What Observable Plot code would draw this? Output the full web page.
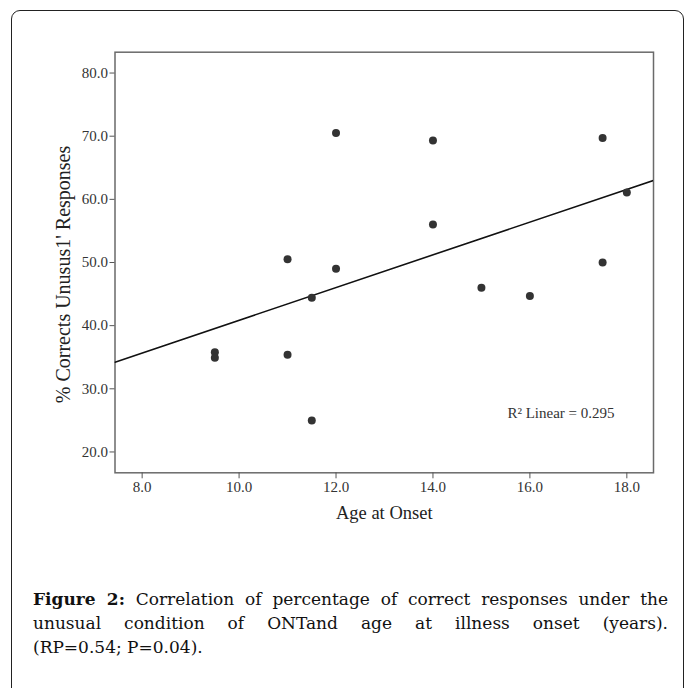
<!DOCTYPE html>
<html>
<head>
<meta charset="utf-8">
<script src="https://cdn.jsdelivr.net/npm/d3@7"></script>
<script src="https://cdn.jsdelivr.net/npm/@observablehq/plot@0.6"></script>
<style>
  html, body { margin: 0; padding: 0; background: #fff; }
  #wrap { position: relative; width: 684px; height: 688px; overflow: hidden; }
  #border { position: absolute; left: 11px; top: 9.5px; width: 672.5px; height: 720px;
            border: 1.6px solid #222; border-radius: 9px; box-sizing: border-box; }
  #chart { position: absolute; left: 0; top: 0; }
  #caption { position: absolute; left: 33px; top: 587px; width: 635px;
             font-family: "DejaVu Serif", serif; font-size: 17px; line-height: 24.2px; color: #111; }
  #caption .j { text-align: justify; text-align-last: justify; white-space: nowrap; }
  #caption b { font-weight: bold; }
</style>
</head>
<body>
<div id="wrap">
  <div id="border"></div>
  <div id="chart"></div>
  <div id="caption">
    <div class="j"><b>Figure 2:</b> Correlation of percentage of correct responses under the</div>
    <div class="j">unusual condition of ONTand age at illness onset (years).</div>
    <div>(RP=0.54; P=0.04).</div>
  </div>
</div>
<script>
// Data
const ageAtOnset = [9.5, 9.5, 11.0, 11.0, 11.5, 11.5, 12.0, 12.0, 14.0, 14.0, 15.0, 16.0, 17.5, 17.5, 18.0];
const pctCorrect = [35.8, 34.9, 35.4, 50.5, 44.4, 25.0, 70.5, 49.0, 69.3, 56.0, 46.0, 44.7, 69.7, 50.0, 61.1];
const xTicks = [8, 10, 12, 14, 16, 18];
const yTicks = [20, 30, 40, 50, 60, 70, 80];
const xDomain = [7.44, 18.55];
const yDomain = [16.7, 83.3];
const xTitle = "Age at Onset";
const yTitle = "% Corrects Unusus1' Responses";
const r2Label = "R² Linear = 0.295";

const points = ageAtOnset.map((a, i) => ({age: a, pct: pctCorrect[i]}));

// ordinary least squares fit, drawn across the full x domain
const mx = d3.mean(ageAtOnset), my = d3.mean(pctCorrect);
const sxy = d3.sum(points, d => (d.age - mx) * (d.pct - my));
const sxx = d3.sum(points, d => (d.age - mx) ** 2);
const slope = sxy / sxx, intercept = my - slope * mx;
const fitLine = xDomain.map(x => ({age: x, pct: intercept + slope * x}));

const serif = "'Liberation Serif', 'Times New Roman', serif";

const chart = Plot.plot({
  width: 684,
  height: 540,
  marginLeft: 114.5,
  marginRight: 31,
  marginTop: 51.7,
  marginBottom: 67.7,
  style: {fontFamily: serif, background: "transparent", color: "#333"},
  x: {domain: xDomain, label: null},
  y: {domain: yDomain, label: null},
  marks: [
    Plot.frame({stroke: "#6a6a6a", strokeWidth: 1.5}),
    Plot.axisX({ticks: xTicks, tickFormat: d3.format(".1f"), tickSize: 6, tickPadding: 3,
                fontSize: 15, stroke: "#555", label: null}),
    Plot.axisY({ticks: yTicks, tickFormat: d3.format(".1f"), tickSize: 5, tickPadding: 2,
                fontSize: 15, stroke: "#555", label: null}),
    Plot.line(fitLine, {x: "age", y: "pct", stroke: "#111", strokeWidth: 1.6, clip: true}),
    Plot.dot(points, {x: "age", y: "pct", r: 4, fill: "#333", stroke: "none"}),
    Plot.text([r2Label], {frameAnchor: "bottom-right", textAnchor: "end", dx: -39, dy: -55,
                          fontSize: 15, fill: "#333"}),
    Plot.text([xTitle], {frameAnchor: "bottom", dy: 46, fontSize: 18.5, fill: "#222"}),
    Plot.text([yTitle], {frameAnchor: "left", textAnchor: "middle", rotate: -90, dx: -51, dy: 12,
                         fontSize: 20, fill: "#222"})
  ]
});
document.getElementById("chart").appendChild(chart);
</script>
</body>
</html>
